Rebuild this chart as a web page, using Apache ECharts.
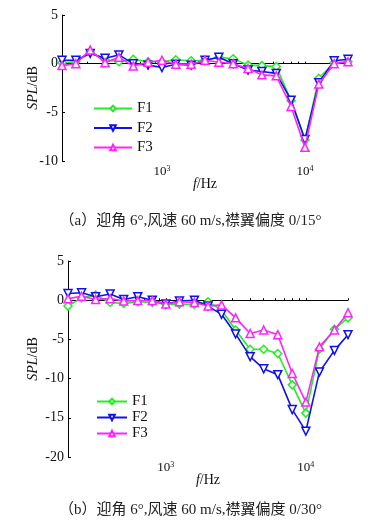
<!DOCTYPE html>
<html><head><meta charset="utf-8">
<script src="https://cdn.jsdelivr.net/npm/echarts@6/dist/echarts.min.js"></script>
<style>html,body{margin:0;padding:0;background:#fff}#c{width:381px;height:522px}</style>
</head><body><div id="c"></div>
<script>
const freqs = [200,250,315,400,500,630,800,1000,1250,1600,2000,2500,3150,4000,5000,6300,8000,10000,12500,16000,20000];
// Chart (a): flap 0/15
const a_F1 = [0.1,0.2,1.2,0.4,0.2,0.45,0.2,0.2,0.4,0.3,0.35,0.65,0.5,-0.15,-0.2,-0.3,-3.8,-7.85,-1.5,0.1,0.2];
const a_F2 = [0.35,0.35,1.05,0.55,0.9,0.0,-0.15,-0.4,-0.05,-0.15,0.35,0.65,0.0,-0.65,-0.8,-1.0,-3.75,-7.8,-1.95,0.3,0.45];
const a_F3 = [-0.2,0.0,1.4,0.1,0.65,-0.25,0.15,0.35,-0.05,-0.05,0.35,0.15,0.0,-0.5,-1.15,-1.25,-4.4,-8.6,-2.1,0.0,0.2];
// Chart (b): flap 0/30
const b_F1 = [-0.75,0.3,0.65,-0.3,-0.4,-0.2,-0.3,-0.5,-0.5,-0.55,-0.2,-1.25,-3.8,-6.25,-6.25,-6.8,-10.8,-14.4,-6.25,-3.7,-2.25];
const b_F2 = [0.85,0.95,0.45,0.8,0.1,0.45,0.0,-0.5,-0.1,0.0,-0.75,-1.8,-4.3,-7.2,-8.75,-9.5,-13.95,-16.7,-9.15,-6.4,-4.4];
const b_F3 = [0.2,0.5,0.1,0.2,-0.1,-0.05,-0.05,-0.5,-0.2,-0.3,-0.75,-0.6,-2.25,-4.25,-3.8,-4.4,-9.35,-13.0,-5.95,-3.8,-1.6];
const seriesNames = ['F1','F2','F3'];
const xLabelValues = [1000, 10000];
const xTickValues = [200,300,400,500,600,700,800,900,1000,2000,3000,4000,5000,6000,7000,8000,9000,10000,20000];
const captions = ['（a）迎角 6°,风速 60 m/s,襟翼偏度 0/15°','（b）迎角 6°,风速 60 m/s,襟翼偏度 0/30°'];

const SERIF = '"Liberation Serif","Times New Roman",serif';
const colors = ['#22ee22','#1010ee','#ff22ff'];
const symbols = ['diamond','triangle','triangle'];
const rotates = [0,180,0];

function pairs(v){ return freqs.map((f,i)=>[f,v[i]]); }

function mkX(idx){
  return {
    type:'log', logBase:10, gridIndex:idx, min:200, max:20000,
    name:'{i|f}/Hz', nameLocation:'middle', nameGap: 16, nameMoveOverlap:false,
    nameTextStyle:{fontFamily:SERIF,fontSize:14,color:'#111',rich:{i:{fontStyle:'italic',fontFamily:SERIF,fontSize:14,color:'#111'}}},
    axisLine:{show:true,lineStyle:{color:'#000',width:1}},
    axisTick:{show:true,inside:true,length:2,customValues:xTickValues,lineStyle:{color:'#000'}},
    minorTick:{show:false},
    splitLine:{show:false},
    axisLabel:{customValues:xLabelValues,margin:4,fontFamily:SERIF,fontSize:13,color:'#111',
      formatter:v=>'10{s|'+Math.round(Math.log10(v))+'}',
      rich:{s:{fontSize:8,fontFamily:SERIF,color:'#111',verticalAlign:'top',padding:[0,0,6,0]}}}
  };
}
function mkY(idx,min,gap){
  return {
    type:'value', gridIndex:idx, min:min, max:5, interval:5,
    name:'{i|SPL}/dB', nameLocation:'middle', nameGap:gap, nameRotate:90, nameMoveOverlap:false,
    nameTextStyle:{fontFamily:SERIF,fontSize:14,color:'#111',rich:{i:{fontStyle:'italic',fontFamily:SERIF,fontSize:14,color:'#111'}}},
    axisLine:{show:true,lineStyle:{color:'#000',width:1}},
    axisTick:{show:true,inside:true,length:3,lineStyle:{color:'#000'}},
    splitLine:{show:false},
    axisLabel:{margin:4,fontFamily:SERIF,fontSize:14,color:'#111'}
  };
}
function mkS(name,i,data,idx){
  return {
    name:name, type:'line', xAxisIndex:idx, yAxisIndex:idx, data:pairs(data),
    symbol:symbols[i], symbolRotate:rotates[i], symbolSize:8, showSymbol:true,
    lineStyle:{color:colors[i],width:1.6},
    itemStyle:{color:'#fff',borderColor:colors[i],borderWidth:1.5},
    animation:false, z: 2+i
  };
}
const capStyle = {fontFamily:'"Liberation Serif","Noto Sans CJK SC",serif',fontSize:15,fontWeight:'normal',color:'#222'};
const chart = echarts.init(document.getElementById('c'),null,{renderer:'canvas'});
chart.setOption({
  backgroundColor:'#fff',
  animation:false,
  title:[
    {text:captions[0],left:'center',top:209,textStyle:capStyle},
    {text:captions[1],left:'center',top:498,textStyle:capStyle}
  ],
  grid:[
    {left:62,top:15,width:286,height:146},
    {left:68,top:261,width:280,height:196}
  ],
  xAxis:[mkX(0),mkX(1)],
  yAxis:[mkY(0,-10,22),mkY(1,-20,28)],
  legend:[
    {orient:'vertical',left:88,top:96,itemWidth:38,itemHeight:7,itemGap:4.5,data:seriesNames,
     textStyle:{fontFamily:SERIF,fontSize:15,color:'#111'}},
    {orient:'vertical',left:91,top:389,itemWidth:30,itemHeight:7,itemGap:1,data:seriesNames,
     textStyle:{fontFamily:SERIF,fontSize:15,color:'#111'}}
  ],
  series:[
    mkS('F1',0,a_F1,0),mkS('F2',1,a_F2,0),mkS('F3',2,a_F3,0),
    mkS('F1',0,b_F1,1),mkS('F2',1,b_F2,1),mkS('F3',2,b_F3,1)
  ]
});
</script></body></html>
